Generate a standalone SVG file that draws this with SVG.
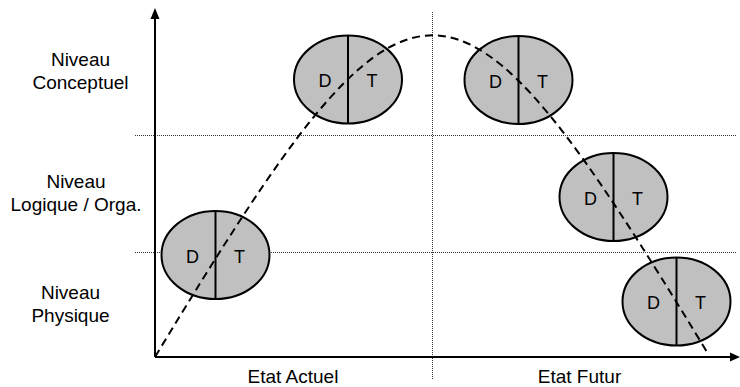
<svg xmlns="http://www.w3.org/2000/svg" width="740" height="387" viewBox="0 0 740 387">
<defs>
<style>
.lbl{font-family:"Liberation Sans",Arial,sans-serif;font-size:19px;fill:#000;text-anchor:middle}
.dt{font-family:"Liberation Sans",Arial,sans-serif;font-size:18px;fill:#000;text-anchor:middle}
.ell{fill:#C0C0C0;stroke:#000;stroke-width:2}
.div{stroke:#000;stroke-width:2}
.dot{stroke:#333;stroke-width:1;stroke-dasharray:1,1;fill:none}
.axis{stroke:#000;stroke-width:2;fill:none}
.curve{stroke:#000;stroke-width:2;stroke-dasharray:8,5;fill:none}
</style>
</defs>
<rect width="740" height="387" fill="#fff"/>
<g id="grid">
<line class="dot" x1="135" y1="135.5" x2="737" y2="135.5"/>
<line class="dot" x1="135" y1="252.5" x2="737" y2="252.5"/>
<line class="dot" x1="432.5" y1="12" x2="432.5" y2="380"/>
</g>
<g id="axes">
<line class="axis" x1="155" y1="357" x2="155" y2="18"/>
<polygon points="155,8 150.5,19 159.5,19" fill="#000"/>
<line class="axis" x1="155" y1="357" x2="731" y2="357"/>
<polygon points="740,357 730,352.5 730,361.5" fill="#000"/>
</g>
<g id="labels">
<text class="lbl" x="80.5" y="66">Niveau</text>
<text class="lbl" x="80.5" y="89">Conceptuel</text>
<text class="lbl" x="76" y="188">Niveau</text>
<text class="lbl" x="76" y="211">Logique / Orga.</text>
<text class="lbl" x="70.5" y="299">Niveau</text>
<text class="lbl" x="70.5" y="322">Physique</text>
<text class="lbl" x="293" y="383">Etat Actuel</text>
<text class="lbl" x="579.5" y="383">Etat Futur</text>
</g>
<g id="n1">
<ellipse class="ell" cx="348" cy="79.5" rx="54" ry="44"/>
<line class="div" x1="348" y1="35.5" x2="348" y2="123.5"/>
<text class="dt" x="325" y="87">D</text><text class="dt" x="372" y="87">T</text>
</g>
<g id="n2">
<ellipse class="ell" cx="518.5" cy="80" rx="54" ry="44"/>
<line class="div" x1="518.5" y1="36" x2="518.5" y2="124"/>
<text class="dt" x="495.5" y="87.5">D</text><text class="dt" x="542.5" y="87.5">T</text>
</g>
<g id="n3">
<ellipse class="ell" cx="215.5" cy="255" rx="54" ry="44"/>
<line class="div" x1="215.5" y1="211" x2="215.5" y2="299"/>
<text class="dt" x="192.5" y="262.5">D</text><text class="dt" x="239.5" y="262.5">T</text>
</g>
<g id="n4">
<ellipse class="ell" cx="613.5" cy="197" rx="54" ry="44"/>
<line class="div" x1="613.5" y1="153" x2="613.5" y2="241"/>
<text class="dt" x="590.5" y="204.5">D</text><text class="dt" x="637.5" y="204.5">T</text>
</g>
<g id="n5">
<ellipse class="ell" cx="676.5" cy="301.5" rx="54" ry="44"/>
<line class="div" x1="676.5" y1="257.5" x2="676.5" y2="345.5"/>
<text class="dt" x="653.5" y="309">D</text><text class="dt" x="700.5" y="309">T</text>
</g>
<g id="connectors">
<path class="curve" d="M155,357 C414,-71 450,-71 707,352"/>
</g>
</svg>
